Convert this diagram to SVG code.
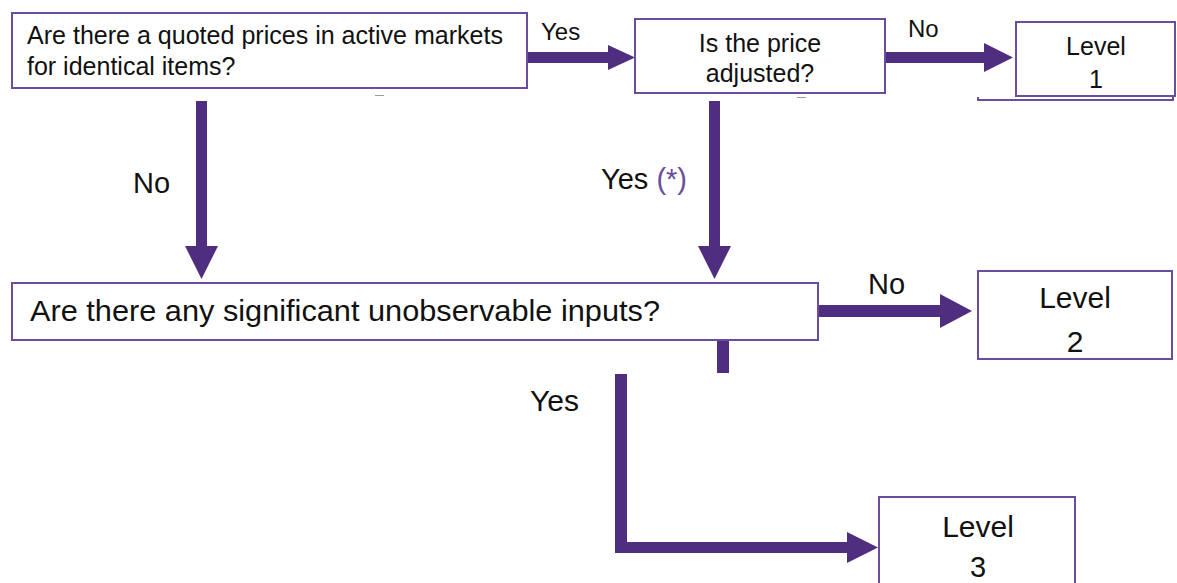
<svg xmlns="http://www.w3.org/2000/svg" width="1177" height="583" viewBox="0 0 1177 583">
<style>
.box{fill:#fff;stroke:#6a4ca0;stroke-width:2}
.t{font-family:"Liberation Sans",Arial,sans-serif;fill:#111}
.c{fill:#4f2d7f}
.mid{text-anchor:middle}
</style>
<rect width="1177" height="583" fill="#fff"/>
<g id="connectors">
  <rect class="c" x="527" y="52" width="84" height="11"/>
  <polygon class="c" points="608,45 635,57.5 608,70"/>
  <rect class="c" x="885" y="52" width="102" height="11"/>
  <polygon class="c" points="984,43 1013,57.5 984,72"/>
  <rect class="c" x="196" y="101" width="11" height="148"/>
  <polygon class="c" points="185,246 218,246 201.5,279"/>
  <rect class="c" x="709" y="101" width="11" height="148"/>
  <polygon class="c" points="698,246 731,246 714.5,279"/>
  <rect class="c" x="818" y="305" width="125" height="12"/>
  <polygon class="c" points="940,294 972,311 940,328"/>
  <rect class="c" x="717" y="340" width="12" height="33"/>
  <rect class="c" x="615" y="374" width="12" height="179"/>
  <rect class="c" x="615" y="542" width="234" height="11"/>
  <polygon class="c" points="847,532 878,547.5 847,563"/>
  <text class="t" x="541" y="40" font-size="24">Yes</text>
  <text class="t" x="908" y="37" font-size="24">No</text>
  <text class="t" x="133" y="193" font-size="29">No</text>
  <text class="t" x="601" y="189" font-size="29">Yes <tspan fill="#6a4ca0">(*)</tspan></text>
  <text class="t" x="868" y="294" font-size="29">No</text>
  <text class="t" x="530" y="411" font-size="30">Yes</text>
</g>
<g id="q1">
  <rect class="box" x="12" y="13" width="515" height="75"/>
  <text class="t" x="27" y="44" font-size="25" textLength="476" lengthAdjust="spacingAndGlyphs">Are there a quoted prices in active markets</text>
  <text class="t" x="27" y="75" font-size="25">for identical items?</text>
  <line x1="375" y1="95.5" x2="384" y2="95.5" stroke="#999" stroke-width="1"/>
</g>
<g id="q2">
  <rect class="box" x="635" y="19" width="250" height="74"/>
  <text class="t mid" x="760" y="52" font-size="25">Is the price</text>
  <text class="t mid" x="760" y="82" font-size="25">adjusted?</text>
  <line x1="797" y1="97.5" x2="806" y2="97.5" stroke="#999" stroke-width="1"/>
</g>
<g id="level1">
  <rect class="box" x="1016" y="22" width="159" height="74"/>
  <text class="t mid" x="1096" y="55" font-size="25">Level</text>
  <text class="t mid" x="1096" y="88" font-size="25">1</text>
  <polyline points="978,97 978,100 1173,100 1173,97" fill="none" stroke="#6a4ca0" stroke-width="2"/>
</g>
<g id="q3">
  <rect class="box" x="12" y="283" width="806" height="57"/>
  <text class="t" x="30" y="321" font-size="29" textLength="630" lengthAdjust="spacingAndGlyphs">Are there any significant unobservable inputs?</text>
</g>
<g id="level2">
  <rect class="box" x="978" y="271" width="194" height="88"/>
  <text class="t mid" x="1075" y="308" font-size="30">Level</text>
  <text class="t mid" x="1075" y="352" font-size="30">2</text>
</g>
<g id="level3">
  <rect class="box" x="879" y="497" width="196" height="100"/>
  <text class="t mid" x="978" y="537" font-size="30">Level</text>
  <text class="t mid" x="978" y="577" font-size="29">3</text>
</g>
</svg>
